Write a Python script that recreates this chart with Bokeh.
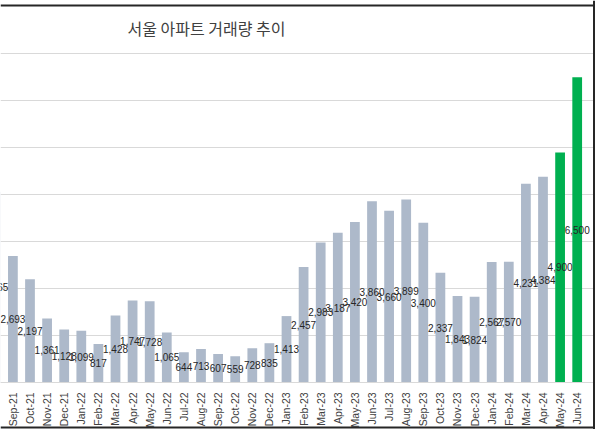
import math
from bokeh.plotting import figure
from bokeh.models import ColumnDataSource, FixedTicker, Span, Label
from bokeh.core.properties import value
from bokeh.embed import file_html
from bokeh.resources import INLINE

# ---- data ----
months = ["Aug-21", "Sep-21", "Oct-21", "Nov-21", "Dec-21",
          "Jan-22", "Feb-22", "Mar-22", "Apr-22", "May-22", "Jun-22",
          "Jul-22", "Aug-22", "Sep-22", "Oct-22", "Nov-22", "Dec-22",
          "Jan-23", "Feb-23", "Mar-23", "Apr-23", "May-23", "Jun-23",
          "Jul-23", "Aug-23", "Sep-23", "Oct-23", "Nov-23", "Dec-23",
          "Jan-24", "Feb-24", "Mar-24", "Apr-24", "May-24", "Jun-24"]
volumes = [4065, 2693, 2197, 1361, 1128,
           1099, 817, 1428, 1747, 1728, 1065,
           644, 713, 607, 559, 728, 835,
           1413, 2457, 2983, 3187, 3420, 3860,
           3660, 3899, 3400, 2337, 1843, 1824,
           2567, 2570, 4231, 4384, 4900, 6500]
highlight = ["May-24", "Jun-24"]
grid_values = [0, 1000, 2000, 3000, 4000, 5000, 6000, 7000]
title_text = "서울 아파트 거래량 추이"

# ---- layout ----
W, H = 595, 429
step_px = 17.1                       # pixels per category
x_start = 1 - 12.4 / step_px         # Sep-21 centred at 12.4 px
x_end = x_start + W / step_px
top_px, zero_px = 53.4, 381.9        # 7000 and 0 grid lines
ppu = (zero_px - top_px) / 7000
y_start = -(H - zero_px) / ppu
y_end = 7000 + top_px / ppu

idx = list(range(len(months)))
colors = ["#00B050" if m in highlight else "#ADB9CA" for m in months]
src = ColumnDataSource(dict(
    x=idx, top=volumes, mid=[v / 2 for v in volumes],
    label=[f"{v:,}" for v in volumes], color=colors))

p = figure(width=W, height=H, output_backend="svg", toolbar_location=None,
           x_range=(x_start, x_end), y_range=(y_start, y_end),
           min_border_left=0, min_border_right=0, min_border_top=0,
           min_border_bottom=0)
p.outline_line_color = None
p.background_fill_color = "white"
p.border_fill_color = "white"

p.yaxis.visible = False
p.xgrid.grid_line_color = None
p.ygrid.ticker = FixedTicker(ticks=grid_values)
p.ygrid.grid_line_color = "#D9D9D9"
p.ygrid.grid_line_width = 1

xa = p.xaxis[0]
xa.fixed_location = 0
xa.ticker = FixedTicker(ticks=idx)
xa.major_label_overrides = {i: m for i, m in zip(idx, months)}
xa.major_label_orientation = math.pi / 2
xa.major_tick_line_color = None
xa.minor_tick_line_color = None
xa.axis_line_color = "#D9D9D9"
xa.major_label_standoff = 4
xa.major_label_text_font = "Liberation Sans"
xa.major_label_text_font_size = "10.5px"
xa.major_label_text_color = "#404040"

p.vbar(x="x", top="top", width=0.57, fill_color="color", line_color=None,
       source=src)
p.text(x="x", y="mid", text="label", source=src,
       text_align="center", text_baseline="middle",
       text_font=value("Liberation Sans"), text_font_size="10px",
       text_color="#262626")

# title
p.add_layout(Label(x=x_start + 206 / step_px,
                   y=y_end - 27.2 / ppu,
                   text=title_text, text_align="center",
                   text_baseline="middle",
                   text_font="Noto Sans CJK KR", text_font_size="16px",
                   text_color="#404040"))

# chart border (top, right, bottom)
bc = "#262626"
p.add_layout(Span(location=y_end - 5 / ppu, dimension="width",
                  line_color=bc, line_width=2))
p.add_layout(Span(location=y_start + 2 / ppu, dimension="width",
                  line_color=bc, line_width=2))
p.add_layout(Span(location=x_start + 593.5 / step_px, dimension="height",
                  line_color=bc, line_width=2))

open("out.html", "w").write(file_html(p, INLINE))
